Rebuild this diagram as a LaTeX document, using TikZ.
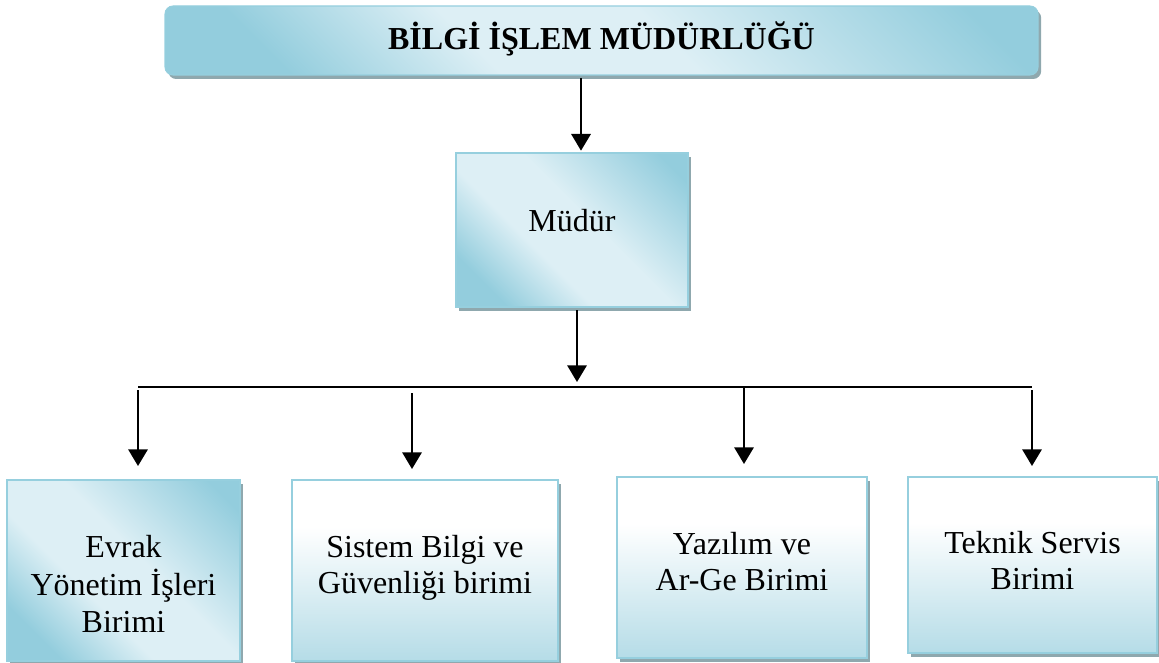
\documentclass[tikz,border=0pt]{standalone}
\usepackage{fontspec}
\setmainfont{Liberation Serif}
\usetikzlibrary{arrows.meta,shadows,calc}
\definecolor{lt}{HTML}{DDEFF5}
\definecolor{dk}{HTML}{93CDDD}
\definecolor{bordc}{HTML}{96CFDE}
\definecolor{shadc}{HTML}{8FA8AE}
\definecolor{botc}{HTML}{B5DCE7}
\pgfdeclareverticalshading{diagsh}{100bp}{color(0bp)=(dk); color(24bp)=(dk); color(40bp)=(lt); color(55bp)=(lt); color(80bp)=(dk); color(100bp)=(dk)}
\pgfdeclareverticalshading{vertsh}{100bp}{color(0bp)=(botc); color(25bp)=(botc); color(62bp)=(white); color(100bp)=(white)}
\newcommand{\placetext}[2]{\raisebox{#1}[0pt][0pt]{\begin{tabular}[t]{@{}c@{}}#2\end{tabular}}}
\tikzset{
  txt/.style={font=\fontsize{24}{27.6}\selectfont, align=center, text=black},
  shad/.style={drop shadow={shadow xshift=2.4pt, shadow yshift=-3pt, fill=shadc, opacity=1}},
  diagbox/.style={txt, shad, draw=bordc, line width=1.5pt, shading=diagsh, shading angle=-45, inner sep=0pt},
  vertbox/.style={txt, shad, draw=bordc, line width=1.5pt, shading=vertsh, inner sep=0pt},
  arr/.style={line width=1.6pt, -{Triangle[width=14.5pt,length=12.5pt]}},
  busline/.style={line width=1.6pt}
}
\begin{document}
\begin{tikzpicture}[x=0.75pt,y=-0.75pt]
\useasboundingbox (0,0) rectangle (1159,663);
% title
\node[shad, draw=bordc, line width=0.8pt, rounded corners=6pt, shading=diagsh, shading angle=-45,
      minimum width=654.75pt, minimum height=51.75pt, inner sep=0pt,
      font=\fontsize{24}{27.6}\selectfont\bfseries] (title) at (601.5,40.5) {\placetext{-7pt}{BİLGİ İŞLEM MÜDÜRLÜĞÜ}};
% director
\node[diagbox, minimum width=174pt, minimum height=115.5pt] (mudur) at (572,230) {\placetext{-1.1pt}{Müdür}};
% units
\node[diagbox, minimum width=174.75pt, minimum height=135.75pt] (b1) at (123.5,570.5) {\placetext{9.4pt}{Evrak\\Yönetim İşleri\\Birimi}};
\node[vertbox, minimum width=199.5pt, minimum height=135.75pt] (b2) at (425,570.5) {\placetext{10pt}{Sistem Bilgi ve\\Güvenliği birimi}};
\node[vertbox, minimum width=187.5pt, minimum height=135.75pt] (b3) at (742,567.5) {\placetext{10pt}{Yazılım ve\\Ar-Ge Birimi}};
\node[vertbox, minimum width=186.75pt, minimum height=132pt] (b4) at (1032.5,565) {\placetext{9pt}{Teknik Servis\\Birimi}};
% connectors
\coordinate (a1) at (581,78);
\coordinate (a2) at (577,310);
\coordinate (busL) at (138,387);
\coordinate (busR) at (1032,387);
\coordinate (d1) at (138,390);
\coordinate (d2) at (412,393);
\coordinate (d3) at (744,387);
\coordinate (d4) at (1032,390);
\draw[arr, shorten >=1pt] (a1) -- (a1 |- mudur.north);
\draw[arr, shorten >=3.75pt] (a2) -- (a2 |- busL);
\draw[busline] (busL) -- (busR);
\draw[arr, shorten >=9.75pt] (d1) -- (d1 |- b1.north);
\draw[arr, shorten >=7.5pt] (d2) -- (d2 |- b2.north);
\draw[arr, shorten >=9pt] (d3) -- (d3 |- b3.north);
\draw[arr, shorten >=7.5pt] (d4) -- (d4 |- b4.north);
\end{tikzpicture}
\end{document}
